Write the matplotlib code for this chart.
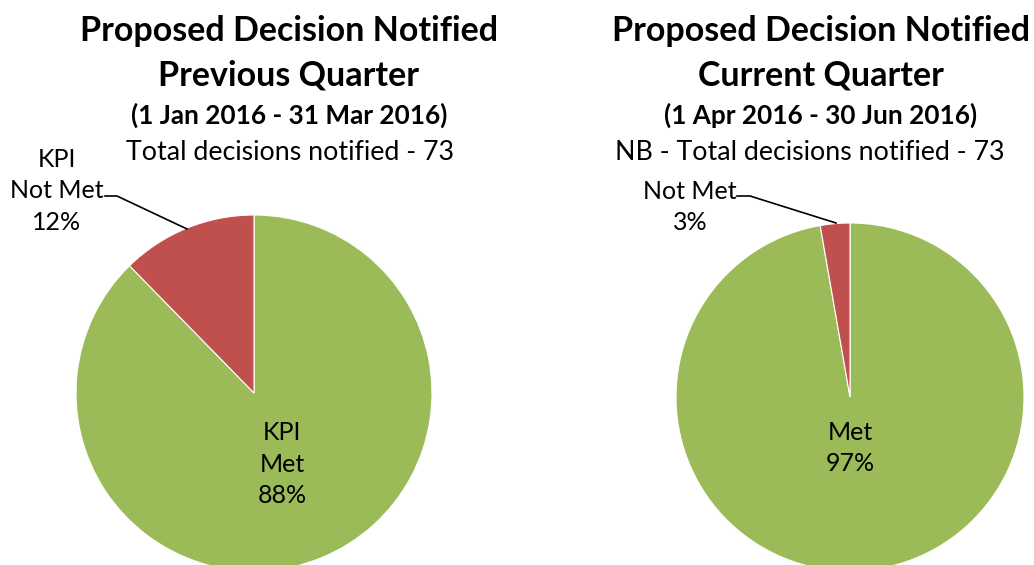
import matplotlib.pyplot as plt

plt.rcParams['font.family'] = ['Lato', 'DejaVu Sans']

W, H = 1034, 565

outcomes = ['KPI Met', 'KPI Not Met']
prev_counts = [64, 9]
curr_counts = [71, 2]
prev_labels = ['KPI\nMet\n88%', 'KPI\nNot Met\n12%']
curr_labels = ['Met\n97%', 'Not Met\n3%']
colors = ['#9BBB59', '#C0504D']

prev_title = ['Proposed Decision Notified', 'Previous Quarter', '(1 Jan 2016 - 31 Mar 2016)',
              'Total decisions notified - 73']
curr_title = ['Proposed Decision Notified', 'Current Quarter', '(1 Apr 2016 - 30 Jun 2016)',
              'NB - Total decisions notified - 73']

fig = plt.figure(figsize=(W / 100, H / 100), dpi=100)


def px(x, y):
    # pixel coords (from top-left) -> figure fraction
    return x / W, 1 - y / H


def add_pie(cx, cy, r, counts):
    ax = fig.add_axes([(cx - r) / W, (H - cy - r) / H, 2 * r / W, 2 * r / H])
    ax.pie(counts, colors=colors, startangle=90, counterclock=False, radius=1,
           wedgeprops=dict(edgecolor='white', linewidth=0.8))
    ax.set_xlim(-1, 1)
    ax.set_ylim(-1, 1)
    ax.set_aspect('equal')
    ax.axis('off')
    return ax


def add_titles(cx, cx_last, lines):
    fig.text(*px(cx, 31), lines[0], ha='center', va='center', fontsize=24.5, fontweight='bold')
    fig.text(*px(cx, 76), lines[1], ha='center', va='center', fontsize=24.5, fontweight='bold')
    fig.text(*px(cx, 115), lines[2], ha='center', va='center', fontsize=18.8, fontweight='bold')
    fig.text(*px(cx_last, 152), lines[3], ha='center', va='center', fontsize=19.3)


add_titles(289, 290, prev_title)
add_titles(821, 810, curr_title)

add_pie(254, 393, 178, prev_counts)
add_pie(850, 397, 174, curr_counts)

lab = dict(ha='center', va='center', fontsize=18, linespacing=1.45)
fig.text(*px(282, 464), prev_labels[0], **lab)
fig.text(*px(57, 191), prev_labels[1], **lab)
fig.text(*px(850, 448), curr_labels[0], **lab)
fig.text(*px(690, 207), curr_labels[1], **lab)

# leader lines
for pts in ([(105, 196), (117, 196), (187, 229)], [(737, 196), (750, 196), (836, 223)]):
    xs = [p[0] / W for p in pts]
    ys = [1 - p[1] / H for p in pts]
    fig.add_artist(plt.Line2D(xs, ys, color='black', lw=1.2, transform=fig.transFigure))

fig.savefig('out.png', dpi=100)
